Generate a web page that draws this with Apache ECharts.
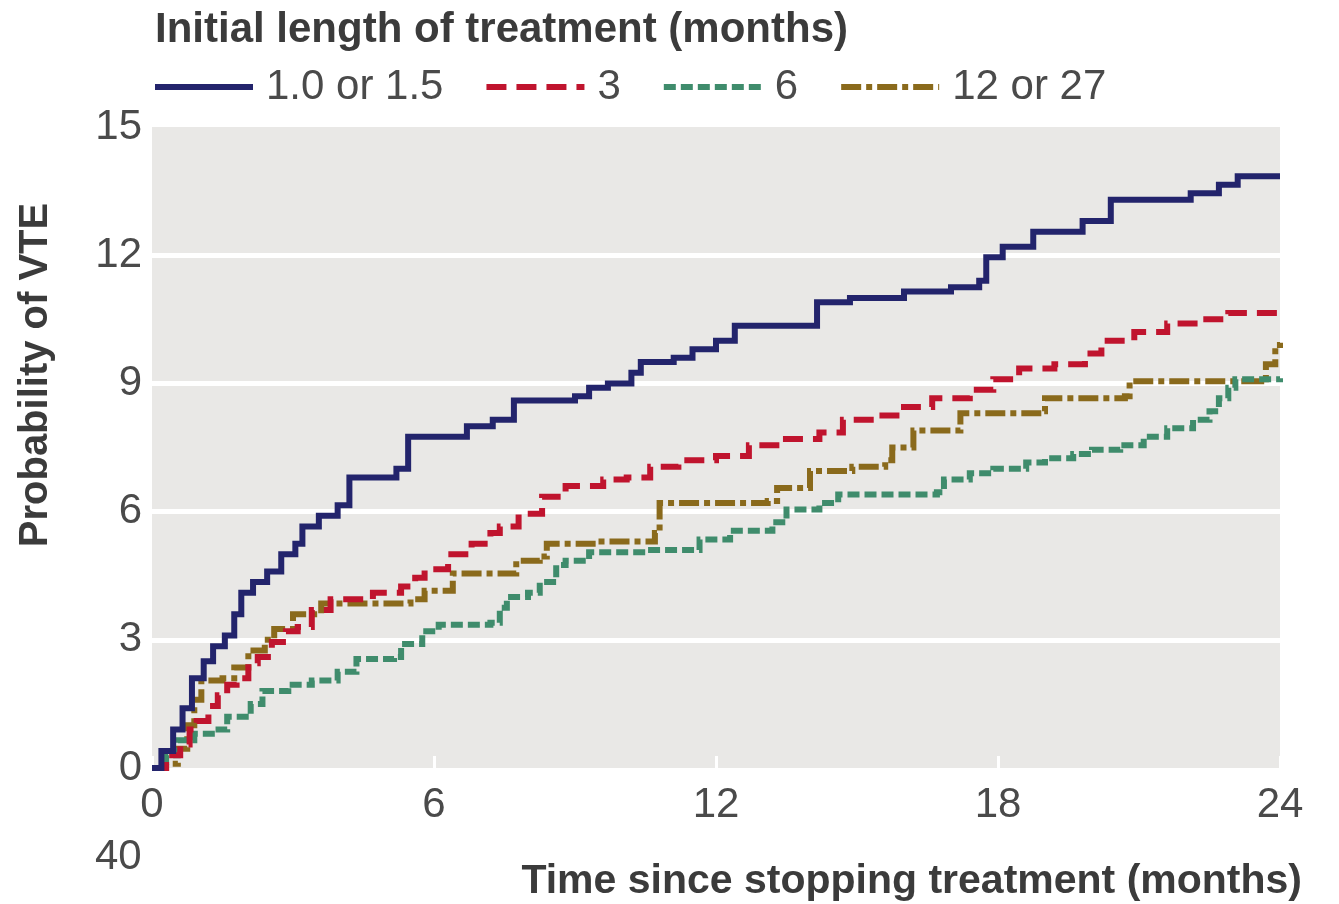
<!DOCTYPE html>
<html>
<head>
<meta charset="utf-8">
<script src="https://cdn.jsdelivr.net/npm/echarts@6/dist/echarts.min.js"></script>
<style>
  html, body { margin: 0; padding: 0; background: #ffffff; }
  #chart { width: 1339px; height: 904px; }
</style>
</head>
<body>
<div id="chart"></div>
<script>
// ---- Data ----
const seriesNames = ['1.0 or 1.5', '3', '6', '12 or 27'];
const xTicks = [0, 6, 12, 18, 24];
const yTicks = [0, 3, 6, 9, 12, 15];

// Blue: 1.0 or 1.5 months
const monthsA = [0, 0.2, 0.45, 0.65, 0.85, 1.1, 1.3, 1.55, 1.75, 1.9, 2.15, 2.45, 2.75, 3.05, 3.2, 3.55, 3.95, 4.2, 5.2, 5.45, 6.7, 7.25, 7.7, 9.0, 9.3, 9.7, 10.2, 10.4, 11.1, 11.5, 12.0, 12.4, 14.15, 14.85, 16.0, 17.0, 17.6, 17.75, 18.1, 18.75, 19.8, 20.4, 22.1, 22.7, 23.1, 24];
const valuesA = [0, 0.4, 0.9, 1.4, 2.1, 2.5, 2.85, 3.1, 3.6, 4.1, 4.35, 4.6, 5.0, 5.25, 5.65, 5.9, 6.15, 6.8, 7.0, 7.75, 8.0, 8.15, 8.6, 8.7, 8.9, 9.0, 9.25, 9.5, 9.6, 9.8, 10.0, 10.35, 10.9, 11.0, 11.15, 11.25, 11.4, 11.95, 12.2, 12.55, 12.8, 13.3, 13.45, 13.65, 13.85, 13.85];

// Red: 3 months
const monthsB = [0, 0.3, 0.6, 0.8, 0.95, 1.2, 1.4, 1.6, 1.8, 2.05, 2.25, 2.55, 2.85, 3.1, 3.4, 3.8, 4.7, 5.3, 5.6, 5.8, 6.3, 6.8, 7.2, 7.4, 7.8, 8.3, 8.8, 9.6, 10.1, 10.6, 11.2, 12.0, 12.7, 13.4, 14.2, 14.7, 15.4, 16.0, 16.6, 17.4, 17.9, 18.45, 19.2, 19.85, 20.2, 20.9, 21.6, 22.3, 22.9, 24];
const valuesB = [0, 0.3, 0.55, 0.9, 1.1, 1.45, 1.7, 1.95, 2.1, 2.45, 2.6, 2.95, 3.2, 3.3, 3.7, 3.95, 4.1, 4.25, 4.45, 4.65, 5.0, 5.25, 5.5, 5.65, 5.95, 6.35, 6.6, 6.75, 6.8, 7.05, 7.2, 7.3, 7.55, 7.7, 7.85, 8.15, 8.25, 8.45, 8.65, 8.85, 9.1, 9.35, 9.45, 9.7, 10.0, 10.2, 10.4, 10.5, 10.65, 10.65];

// Green: 6 months
const monthsC = [0, 0.3, 0.55, 0.9, 1.35, 1.6, 2.1, 2.35, 2.9, 3.4, 3.95, 4.35, 5.15, 5.3, 5.75, 6.1, 7.2, 7.4, 7.55, 8.0, 8.25, 8.6, 8.8, 9.3, 10.5, 11.65, 12.3, 13.2, 13.5, 14.2, 14.6, 16.7, 16.85, 17.4, 17.9, 18.6, 19.0, 19.6, 20.0, 20.6, 21.1, 21.6, 22.15, 22.5, 22.7, 22.9, 23.05, 24];
const valuesC = [0, 0.3, 0.65, 0.8, 0.9, 1.2, 1.5, 1.8, 1.95, 2.05, 2.25, 2.55, 2.6, 2.9, 3.2, 3.35, 3.4, 3.75, 4.0, 4.1, 4.35, 4.75, 4.85, 5.05, 5.1, 5.35, 5.55, 5.75, 6.05, 6.2, 6.4, 6.45, 6.75, 6.9, 7.0, 7.15, 7.25, 7.35, 7.45, 7.55, 7.75, 7.95, 8.15, 8.35, 8.65, 8.9, 9.1, 9.12];

// Gold: 12 or 27 months
const monthsD = [0, 0.3, 0.55, 0.75, 0.9, 1.05, 1.5, 1.75, 2.05, 2.4, 2.6, 3.0, 3.6, 5.5, 5.8, 6.4, 7.75, 8.25, 8.4, 9.5, 10.7, 10.8, 13.1, 13.3, 14.0, 14.9, 15.6, 15.75, 16.2, 17.2, 18.95, 19.0, 20.7, 20.8, 23.6, 23.7, 23.9, 24];
const valuesD = [0, 0.1, 0.45, 1.0, 1.6, 2.05, 2.1, 2.35, 2.75, 3.0, 3.25, 3.6, 3.85, 3.95, 4.15, 4.55, 4.85, 4.95, 5.25, 5.3, 5.5, 6.2, 6.25, 6.55, 6.95, 7.05, 7.2, 7.5, 7.9, 8.3, 8.35, 8.65, 8.7, 9.05, 9.1, 9.45, 9.9, 9.95];

const colors = ['#23246c', '#c0142e', '#3f8c6c', '#8a6a1c'];
const dashes = ['solid', [20, 10], [12, 5], [20, 5, 6, 5]];

const FONT = '"Liberation Sans", Arial, "DejaVu Sans", sans-serif';

function zip(xs, ys) { return xs.map((x, i) => [x, ys[i]]); }
const allData = [zip(monthsA, valuesA), zip(monthsB, valuesB), zip(monthsC, valuesC), zip(monthsD, valuesD)];

const series = seriesNames.map((name, i) => ({
  name: name,
  type: 'line',
  step: 'end',
  data: allData[i],
  symbol: 'none',
  showSymbol: false,
  lineStyle: { color: colors[i], width: 6, type: dashes[i], cap: 'butt', join: 'miter' },
  itemStyle: { color: colors[i] },
  z: 10 - i
}));

const chart = echarts.init(document.getElementById('chart'), null, { renderer: 'canvas' });
chart.setOption({
  animation: false,
  backgroundColor: '#ffffff',
  title: {
    text: 'Initial length of treatment (months)',
    left: 150, top: 4,
    textStyle: { fontFamily: FONT, fontSize: 42, fontWeight: 'bold', color: '#3b3b3b' }
  },
  legend: {
    left: 152, top: 66, padding: 0,
    itemWidth: 98, itemHeight: 20, itemGap: 40,
    itemStyle: { opacity: 0, borderWidth: 0 },
    lineStyle: { width: 6, opacity: 1 },
    textStyle: { fontFamily: FONT, fontSize: 42, color: '#4a4a4a', padding: [0, 0, 0, 8] },
    data: seriesNames
  },
  grid: {
    left: 152, right: 59, top: 127, bottom: 136,
    show: true, backgroundColor: '#e9e8e6', borderWidth: 0
  },
  xAxis: {
    type: 'value', min: 0, max: 24, interval: 6,
    axisLine: { show: false },
    axisTick: { show: true, inside: true, length: 12, lineStyle: { color: '#ffffff', width: 3 } },
    splitLine: { show: false },
    axisLabel: { fontFamily: FONT, fontSize: 42, color: '#4a4a4a', margin: 16,
      formatter: v => (xTicks.indexOf(v) >= 0 ? String(v) : '') }
  },
  yAxis: {
    type: 'value', min: 0, max: 15, interval: 3,
    axisLine: { show: false },
    axisTick: { show: false },
    splitLine: { show: true, showMinLine: false, showMaxLine: false, lineStyle: { color: '#ffffff', width: 5 } },
    axisLabel: { fontFamily: FONT, fontSize: 42, color: '#4a4a4a', margin: 10,
      formatter: v => (yTicks.indexOf(v) >= 0 ? String(v) : '') }
  },
  graphic: [
    {
      type: 'text', x: 36, y: 375, rotation: Math.PI / 2,
      style: { text: 'Probability of VTE', font: 'bold 40px ' + FONT, fill: '#3b3b3b',
        textAlign: 'center', textVerticalAlign: 'middle', align: 'center', verticalAlign: 'middle' }
    },
    {
      type: 'text', x: 1302, y: 882,
      style: { text: 'Time since stopping treatment (months)', font: 'bold 41px ' + FONT, fill: '#3b3b3b',
        textAlign: 'right', textVerticalAlign: 'middle', align: 'right', verticalAlign: 'middle' }
    },
    {
      type: 'text', x: 95, y: 857,
      style: { text: '40', font: '42px ' + FONT, fill: '#4a4a4a',
        textAlign: 'left', textVerticalAlign: 'middle', align: 'left', verticalAlign: 'middle' }
    }
  ],
  series: series
});
</script>
</body>
</html>
